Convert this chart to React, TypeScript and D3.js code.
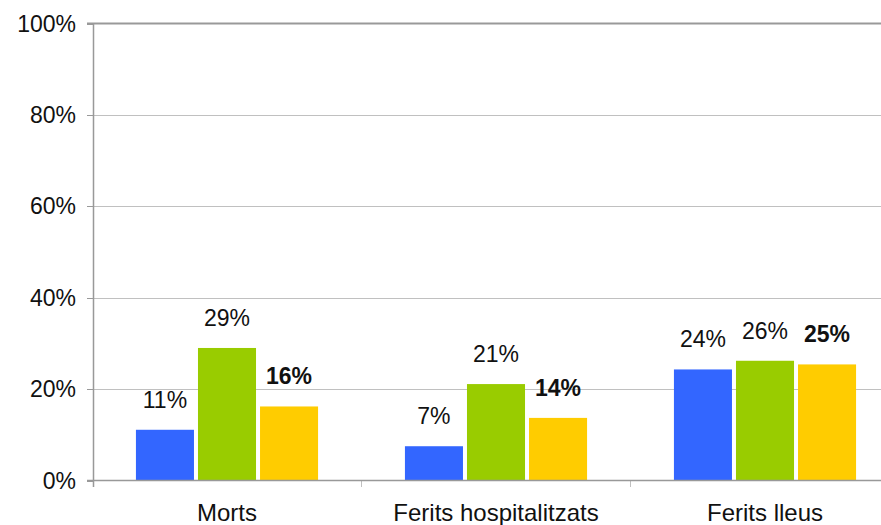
import React, { useEffect, useRef } from 'react';
import * as d3 from 'd3';

const categories = ['Morts', 'Ferits hospitalitzats', 'Ferits lleus'];
const seriesKeys = ['a', 'b', 'c'];
const seriesA = [11.1, 7.5, 24.3];
const seriesB = [29.0, 21.1, 26.2];
const seriesC = [16.2, 13.7, 25.4];
const labelsA = ['11%', '7%', '24%'];
const labelsB = ['29%', '21%', '26%'];
const labelsC = ['16%', '14%', '25%'];
const yTicks = [0, 20, 40, 60, 80, 100];

const colors = ['#3366FF', '#99CC00', '#FFCC00'];

const App: React.FC = () => {
  const svgRef = useRef<SVGSVGElement>(null);

  useEffect(() => {
    if (!svgRef.current) return;
    const W = 881;
    const H = 525;
    const font = '"Liberation Sans", Arial, sans-serif';

    const svg = d3.select(svgRef.current)
      .attr('width', W)
      .attr('height', H)
      .html('');

    const y = d3.scaleLinear().domain([0, 100]).range([480.5, 23.5]);
    // plot is cut off on the right, so the last category runs past the edge
    const x0 = d3.scaleBand().domain(categories).range([92.5, 899.5]).padding(0);
    const x1 = d3.scaleBand()
      .domain(seriesKeys)
      .range([0, x0.bandwidth()])
      .paddingInner(4 / 62)
      .paddingOuter(0.7);

    // gridlines
    svg.append('g')
      .selectAll('line')
      .data(yTicks.filter(t => t > 0 && t < 100))
      .join('line')
      .attr('x1', 87)
      .attr('x2', W)
      .attr('y1', d => Math.round(y(d)) + 0.5)
      .attr('y2', d => Math.round(y(d)) + 0.5)
      .style('stroke', '#c0c0c0')
      .style('stroke-width', 1);

    // top border
    svg.append('line')
      .attr('x1', 87).attr('x2', W)
      .attr('y1', y(100)).attr('y2', y(100))
      .style('stroke', '#999')
      .style('stroke-width', 2);

    // y tick labels
    svg.append('g')
      .selectAll('text')
      .data(yTicks)
      .join('text')
      .attr('x', 76)
      .attr('y', d => y(d))
      .attr('dy', '0.35em')
      .attr('text-anchor', 'end')
      .style('font-family', font)
      .style('font-size', '23px')
      .style('fill', '#111')
      .text(d => `${d}%`);

    // category ticks
    const bounds = [92.5, 92.5 + x0.step(), 92.5 + 2 * x0.step()];
    svg.append('g')
      .selectAll('line')
      .data(bounds.slice(1))
      .join('line')
      .attr('x1', d => d).attr('x2', d => d)
      .attr('y1', 480).attr('y2', 487)
      .style('stroke', '#c0c0c0')
      .style('stroke-width', 1);

    const series = [seriesA, seriesB, seriesC];
    const labels = [labelsA, labelsB, labelsC];

    categories.forEach((cat, ci) => {
      seriesKeys.forEach((key, si) => {
        const v = series[si][ci];
        const bx = x0(cat)! + x1(key)!;
        svg.append('rect')
          .attr('x', bx)
          .attr('y', y(v))
          .attr('width', x1.bandwidth())
          .attr('height', y(0) - y(v))
          .style('fill', colors[si]);

        svg.append('text')
          .attr('x', bx + x1.bandwidth() / 2)
          .attr('y', y(v) - 22)
          .attr('text-anchor', 'middle')
          .style('font-family', font)
          .style('font-size', '23px')
          .style('font-weight', si === 2 ? 'bold' : 'normal')
          .style('fill', '#111')
          .text(labels[si][ci]);
      });

      svg.append('text')
        .attr('x', x0(cat)! + x0.bandwidth() / 2)
        .attr('y', 521)
        .attr('text-anchor', 'middle')
        .style('font-family', font)
        .style('font-size', '24px')
        .style('fill', '#111')
        .text(cat);
    });

    // axes
    svg.append('line')
      .attr('x1', 87).attr('x2', W)
      .attr('y1', 480.5).attr('y2', 480.5)
      .style('stroke', '#999')
      .style('stroke-width', 1.5);

    svg.append('line')
      .attr('x1', 93.5).attr('x2', 93.5)
      .attr('y1', 23).attr('y2', 487)
      .style('stroke', '#999')
      .style('stroke-width', 1.5);

    // y tick marks
    svg.append('g')
      .selectAll('line')
      .data(yTicks)
      .join('line')
      .attr('x1', 87).attr('x2', 93)
      .attr('y1', d => Math.round(y(d)) + 0.5)
      .attr('y2', d => Math.round(y(d)) + 0.5)
      .style('stroke', '#999')
      .style('stroke-width', 1);
  }, []);

  return (
    <div style={{ position: 'absolute', left: 0, top: 0, background: '#fff' }}>
      <svg ref={svgRef} style={{ display: 'block' }} />
    </div>
  );
};

export default App;
